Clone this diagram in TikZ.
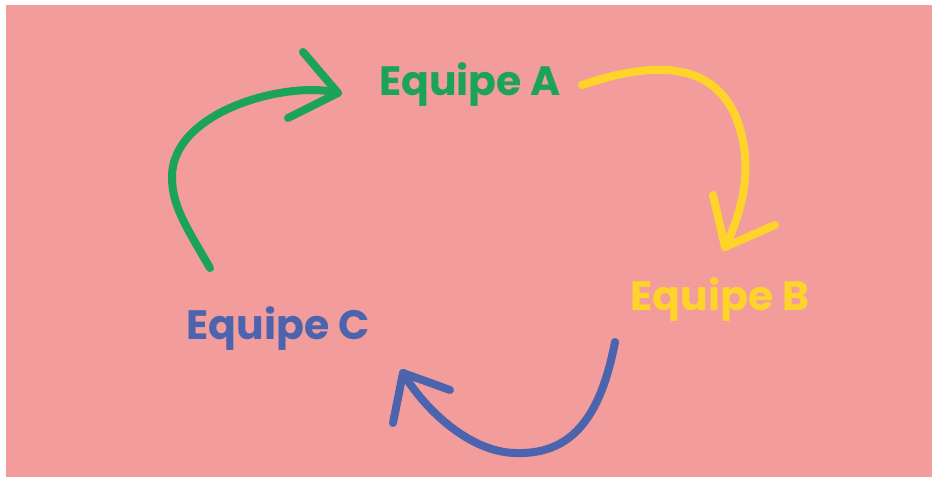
\documentclass[tikz,border=0pt]{standalone}
\usepackage{fontspec}
\setmainfont{Poppins}
\definecolor{fond}{HTML}{F29C9C}
\definecolor{vert}{HTML}{1BA35B}
\definecolor{jaune}{HTML}{FFD42A}
\definecolor{bleu}{HTML}{4B64AD}
\tikzset{brush/.style={line width=8pt, line cap=round, line join=round},
  equipe/.style={font=\fontsize{41}{49}\selectfont\bfseries, anchor=base, inner sep=0pt}}

\begin{document}
\begin{tikzpicture}[x=1pt,y=-1pt]
\useasboundingbox (0,0) rectangle (932,479);
\fill[fond] (6,5) rectangle (932,477);
\node[equipe, text=vert] (A) at (470,95) {Equipe A};
\node[equipe, text=jaune] (B) at (720,310) {Equipe B};
\node[equipe, text=bleu] (C) at (278,339) {Equipe C};
% C -> A
\coordinate (g0) at (210,268);
\coordinate (g1) at (172,177);
\coordinate (gt) at (338,93);
\draw[brush, vert] (g0) .. controls (185,225) and (172,205) .. (g1)
  .. controls (172,110) and (290,80) .. (gt);
\draw[brush, vert] (303,52) -- (gt) -- (288,118);
% A -> B
\coordinate (y0) at (582,85);
\coordinate (y1) at (735,115);
\coordinate (yt) at (725,247);
\draw[brush, jaune] (y0) .. controls (650,62) and (710,60) .. (y1)
  .. controls (752,155) and (748,200) .. (yt);
\draw[brush, jaune] (713,195) -- (yt) -- (775,225);
% B -> C
\coordinate (b0) at (615,342);
\coordinate (b1) at (515,453);
\coordinate (bt) at (403,373);
\draw[brush, bleu] (b0) .. controls (600,420) and (570,455) .. (b1)
  .. controls (470,452) and (425,410) .. (bt);
\draw[brush, bleu] (393,423) -- (bt) -- (450,390);
\end{tikzpicture}
\end{document}
